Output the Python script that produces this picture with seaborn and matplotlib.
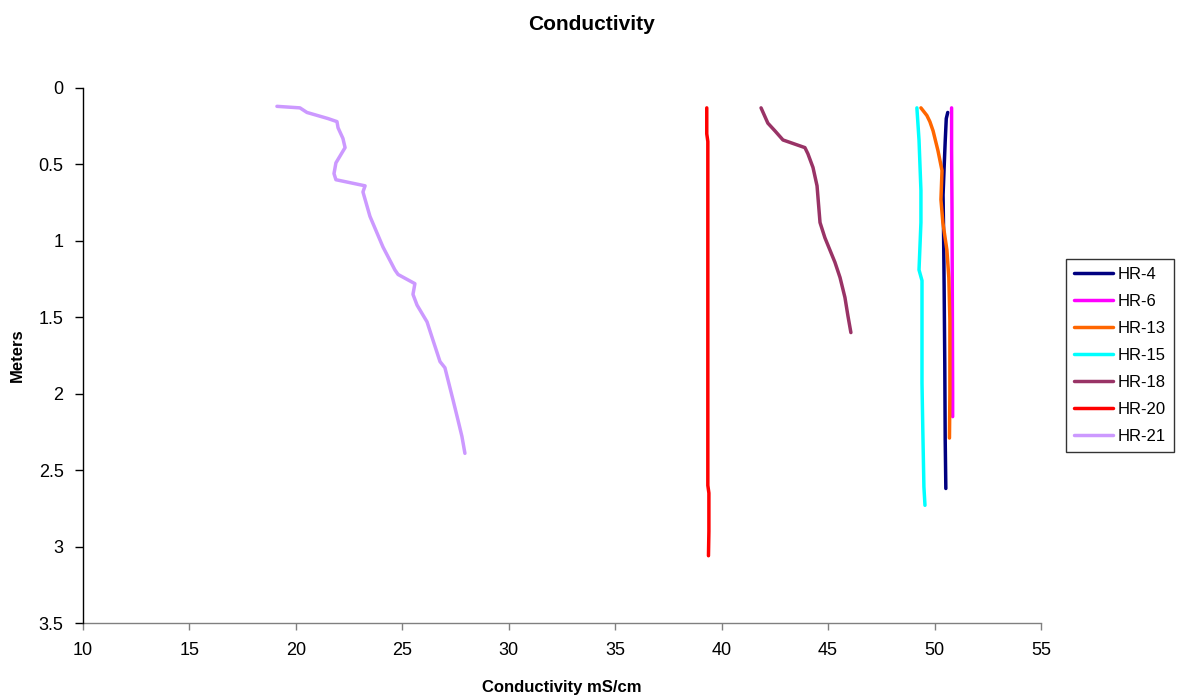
import numpy as np
import pandas as pd
import matplotlib
matplotlib.use("Agg")
import matplotlib.pyplot as plt
import seaborn as sns

# ---- data ----
series_names = ["HR-4", "HR-6", "HR-13", "HR-15", "HR-18", "HR-20", "HR-21"]

hr4_cond = [50.62, 50.55, 50.50, 50.45, 50.40, 50.42, 50.45, 50.48, 50.50, 50.53]
hr4_depth = [0.16, 0.20, 0.35, 0.52, 0.70, 0.90, 1.30, 1.80, 2.30, 2.62]

hr6_cond = [50.80, 50.80, 50.82, 50.83, 50.84, 50.85, 50.85]
hr6_depth = [0.13, 0.40, 0.80, 1.20, 1.60, 2.00, 2.15]

hr13_cond = [49.36, 49.64, 49.78, 49.93, 50.16, 50.35, 50.30, 50.39, 50.58, 50.67, 50.72, 50.72, 50.70]
hr13_depth = [0.13, 0.18, 0.22, 0.28, 0.41, 0.54, 0.73, 0.88, 1.06, 1.24, 1.52, 2.00, 2.29]

hr15_cond = [49.17, 49.27, 49.36, 49.36, 49.27, 49.41, 49.41, 49.41, 49.45, 49.50, 49.55]
hr15_depth = [0.13, 0.34, 0.67, 0.88, 1.19, 1.26, 1.52, 1.93, 2.25, 2.61, 2.73]

hr18_cond = [41.85, 42.17, 42.50, 42.88, 43.91, 44.05, 44.29, 44.48, 44.62, 44.85, 45.32, 45.56, 45.79, 45.93, 46.07]
hr18_depth = [0.13, 0.23, 0.28, 0.34, 0.39, 0.43, 0.52, 0.64, 0.88, 0.98, 1.14, 1.24, 1.37, 1.49, 1.60]

hr20_cond = [39.30, 39.30, 39.35, 39.35, 39.35, 39.35, 39.40, 39.40, 39.38]
hr20_depth = [0.13, 0.30, 0.35, 1.00, 2.00, 2.60, 2.65, 2.90, 3.06]

hr21_cond = [19.11, 20.19, 20.52, 21.51, 21.93, 21.98, 22.21, 22.31, 21.88, 21.79, 21.88,
             23.25, 23.15, 23.48, 24.09, 24.65, 24.80, 25.59, 25.50, 25.69, 26.16, 26.44,
             26.77, 27.00, 27.38, 27.61, 27.80, 27.94]
hr21_depth = [0.12, 0.13, 0.16, 0.20, 0.22, 0.26, 0.33, 0.39, 0.49, 0.56, 0.60,
              0.64, 0.68, 0.84, 1.04, 1.19, 1.22, 1.28, 1.35, 1.42, 1.53, 1.65,
              1.79, 1.83, 2.04, 2.17, 2.28, 2.39]

x_ticks = [10, 15, 20, 25, 30, 35, 40, 45, 50, 55]
y_ticks = [0, 0.5, 1, 1.5, 2, 2.5, 3, 3.5]
y_tick_labels = ["0", "0.5", "1", "1.5", "2", "2.5", "3", "3.5"]

colors = {"HR-4": "#000080", "HR-6": "#FF00FF", "HR-13": "#FF6600", "HR-15": "#00FFFF",
          "HR-18": "#993366", "HR-20": "#FF0000", "HR-21": "#CC99FF"}

all_cond = [hr4_cond, hr6_cond, hr13_cond, hr15_cond, hr18_cond, hr20_cond, hr21_cond]
all_depth = [hr4_depth, hr6_depth, hr13_depth, hr15_depth, hr18_depth, hr20_depth, hr21_depth]

rows = []
for name, c, d in zip(series_names, all_cond, all_depth):
    for i, (ci, di) in enumerate(zip(c, d)):
        rows.append({"Well": name, "Conductivity": ci, "Depth": di, "order": i})
df = pd.DataFrame(rows)

# ---- plot ----
sns.set_style("white")
plt.rcParams['font.family'] = ['Liberation Sans', 'DejaVu Sans']
plt.rcParams['text.color'] = 'black'
plt.rcParams['axes.labelcolor'] = 'black'
plt.rcParams['xtick.color'] = 'black'
plt.rcParams['ytick.color'] = 'black'

fig = plt.figure(figsize=(11.83, 6.98), dpi=100)
ax = fig.add_axes([83/1183, 1 - 623/698, (1041-83)/1183, (623-88)/698])

sns.lineplot(data=df, x="Conductivity", y="Depth", hue="Well", hue_order=series_names,
             palette=colors, sort=False, estimator=None, linewidth=2.5, ax=ax)

ax.set_xlim(10, 55)
ax.set_ylim(3.5, 0)
ax.set_xticks(x_ticks)
ax.set_yticks(y_ticks)
ax.set_yticklabels(y_tick_labels)
ax.tick_params(axis="both", labelsize=13, direction="out", width=1,
               labelcolor="black", bottom=True, left=True)
ax.tick_params(axis="x", pad=9, length=5, color="#808080")
ax.tick_params(axis="y", pad=8, length=6, color="black")
for s in ["top", "right"]:
    ax.spines[s].set_visible(False)
ax.spines["left"].set_color("black")
ax.spines["left"].set_linewidth(1)
ax.spines["bottom"].set_color("#808080")
ax.spines["bottom"].set_linewidth(1)
ax.spines["left"].set_zorder(3)

ax.set_xlabel("Conductivity mS/cm", fontsize=12, fontweight="bold", labelpad=15, color="black")
ax.set_ylabel("Meters", fontsize=12, fontweight="bold", labelpad=10, color="black")
fig.suptitle("Conductivity", fontsize=15, fontweight="bold", y=1 - 24/698, va="center", color="black")

leg = ax.legend(loc="center left", bbox_to_anchor=(1.026, 0.5), frameon=True,
                fancybox=False, edgecolor="black", fontsize=12, borderaxespad=0,
                handlelength=2.3, handletextpad=0.3, labelspacing=0.72, borderpad=0.5)
leg.get_frame().set_linewidth(1)
for line in leg.get_lines():
    line.set_linewidth(2.5)
for t in leg.get_texts():
    t.set_color("black")

fig.savefig("out.png", dpi=100)
